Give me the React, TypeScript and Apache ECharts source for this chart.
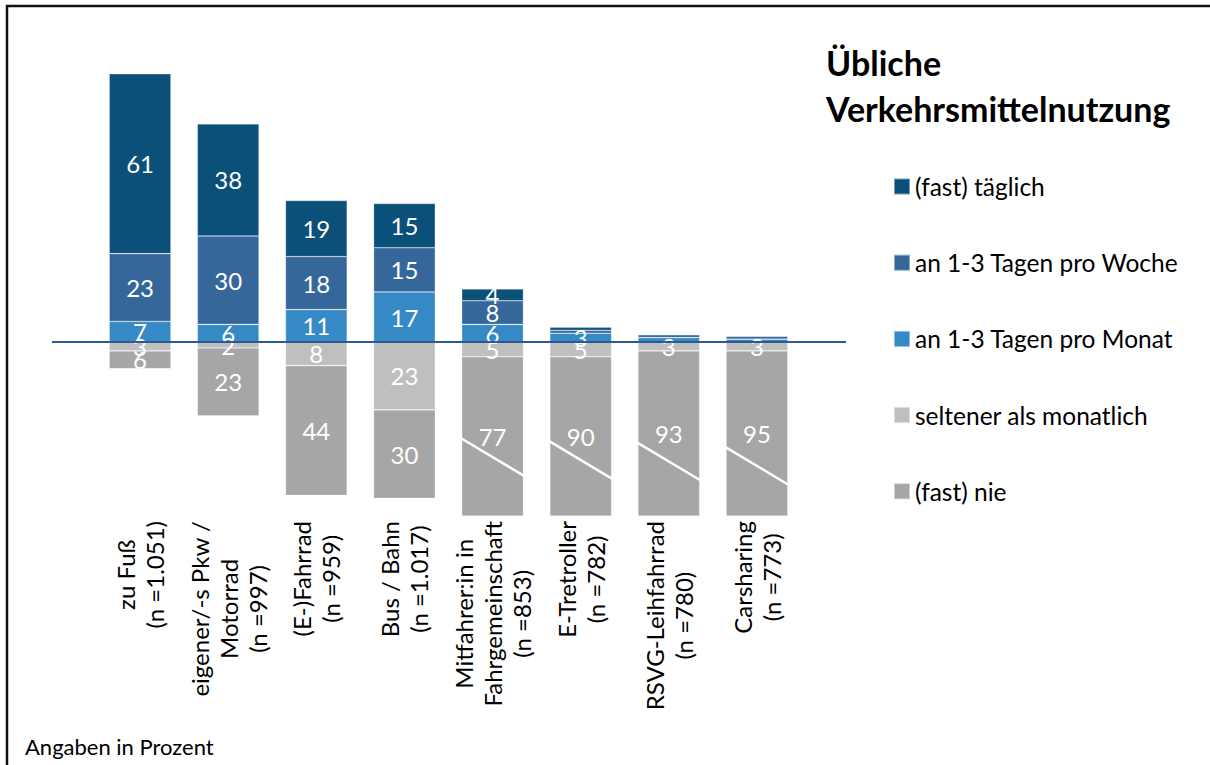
import React, { useEffect, useRef } from "react";
import * as echarts from "echarts";

const FONT = "Lato, 'Open Sans', sans-serif";

const categories = [
  "zu Fuß\n(n =1.051)",
  "eigener/-s Pkw /\nMotorrad\n(n =997)",
  "(E-)Fahrrad\n(n =959)",
  "Bus / Bahn\n(n =1.017)",
  "Mitfahrer:in in\nFahrgemeinschaft\n(n =853)",
  "E-Tretroller\n(n =782)",
  "RSVG-Leihfahrrad\n(n =780)",
  "Carsharing\n(n =773)",
];

const seriesNames = [
  "(fast) täglich",
  "an 1-3 Tagen pro Woche",
  "an 1-3 Tagen pro Monat",
  "seltener als monatlich",
  "(fast) nie",
];

const taeglich = [61, 38, 19, 15, 4, 1, 0, 0];
const woche = [23, 30, 18, 15, 8, 1, 1, 1];
const monat = [7, 6, 11, 17, 6, 3, 1.5, 1];
const seltener = [3, 2, 8, 23, 5, 5, 3, 3];
const nie = [6, 23, 44, 30, 77, 90, 93, 95];

// axis break: bars below zero are cut at this depth
const breakDepth = 59;
// category index and value where the break marker is drawn
const breakAt = [
  [4, -39],
  [5, -40],
  [6, -40.5],
  [7, -42],
];

const colors = ["#0b5079", "#36679b", "#358ac6", "#bfbfbf", "#a6a6a6"];

const CAT_FONT_SIZE = 24;

function maxLineWidth(text: string): number {
  const ctx = document.createElement("canvas").getContext("2d");
  if (!ctx) return 0;
  ctx.font = `${CAT_FONT_SIZE}px ${FONT}`;
  return Math.max(...text.split("\n").map((s) => ctx.measureText(s).width));
}

export default function App() {
  const ref = useRef<HTMLDivElement>(null);

  useEffect(() => {
    if (!ref.current) return;
    document.body.style.margin = "0";
    const chart = echarts.init(ref.current, null, { renderer: "svg" });

    const labelCfg = {
      show: true,
      position: "inside",
      color: "#ffffff",
      fontSize: 24,
      fontFamily: FONT,
      formatter: (p: any) => {
        const v = Math.abs(p.data.real !== undefined ? p.data.real : p.value);
        return v >= 2 ? String(Math.round(v)) : "";
      },
    };

    const barBase = {
      type: "bar",
      stack: "a",
      barCategoryGap: "30%",
      label: labelCfg,
      itemStyle: { borderColor: "rgba(255,255,255,0.45)", borderWidth: 0.6 },
    };

    const nieShown = nie.map((v, i) => ({
      value: -Math.min(v, breakDepth - seltener[i]),
      real: v,
    }));

    const catWidths = categories.map(maxLineWidth);

    const option: any = {
      animation: false,
      backgroundColor: "#ffffff",
      title: {
        text: "Übliche\nVerkehrsmittelnutzung",
        left: 826,
        top: 39,
        padding: 0,
        textStyle: {
          fontSize: 34,
          fontWeight: "bold",
          lineHeight: 46,
          fontFamily: FONT,
          color: "#000000",
        },
      },
      legend: {
        orient: "vertical",
        left: 893,
        top: 174,
        padding: 0,
        itemGap: 51.2,
        itemWidth: 16,
        itemHeight: 16,
        icon: "rect",
        data: seriesNames,
        selectedMode: false,
        textStyle: { fontSize: 24.5, fontFamily: FONT, color: "#000000" },
      },
      grid: { left: 96, width: 705, top: 62, height: 454 },
      xAxis: {
        type: "category",
        data: categories,
        axisLine: { show: false },
        axisTick: { show: false },
        axisLabel: { show: false },
      },
      yAxis: {
        type: "value",
        min: -breakDepth,
        max: 95,
        show: false,
        splitLine: { show: false },
      },
      series: [
        { ...barBase, name: seriesNames[2], data: monat, itemStyle: { ...barBase.itemStyle, color: colors[2] } },
        { ...barBase, name: seriesNames[1], data: woche, itemStyle: { ...barBase.itemStyle, color: colors[1] } },
        { ...barBase, name: seriesNames[0], data: taeglich, itemStyle: { ...barBase.itemStyle, color: colors[0] } },
        { ...barBase, name: seriesNames[3], data: seltener.map((v) => -v), itemStyle: { ...barBase.itemStyle, color: colors[3] } },
        { ...barBase, name: seriesNames[4], data: nieShown, itemStyle: { ...barBase.itemStyle, color: colors[4] } },
        {
          type: "custom",
          name: "break",
          data: breakAt,
          z: 5,
          silent: true,
          renderItem: (params: any, api: any) => {
            const c = api.coord([api.value(0), api.value(1)]);
            const bw = api.size([1, 0])[0] * 0.705;
            const dy = api.size([0, 6.3])[1];
            return {
              type: "line",
              shape: {
                x1: c[0] - bw / 2,
                y1: c[1] - dy,
                x2: c[0] + bw / 2,
                y2: c[1] + dy,
              },
              style: { stroke: "#ffffff", lineWidth: 2.5 },
            };
          },
        },
        {
          // category labels, rotated, lines centred on each other
          type: "custom",
          name: "catLabels",
          data: categories.map((_, i) => [i, -breakDepth]),
          clip: false,
          silent: true,
          z: 6,
          renderItem: (params: any, api: any) => {
            const i = api.value(0);
            const p = api.coord([i, api.value(1)]);
            const w = catWidths[i];
            return {
              type: "text",
              x: p[0],
              y: p[1] + 5 + w / 2,
              rotation: Math.PI / 2,
              style: {
                text: categories[i],
                align: "center",
                verticalAlign: "middle",
                fontSize: CAT_FONT_SIZE,
                fontFamily: FONT,
                lineHeight: 29,
                fill: "#000000",
              },
            };
          },
        },
      ],
    };

    chart.setOption(option);

    const y0 = chart.convertToPixel({ yAxisIndex: 0 }, 0) as number;
    chart.setOption({
      graphic: [
        {
          type: "line",
          shape: { x1: 52, y1: y0, x2: 846, y2: y0 },
          style: { stroke: "#2f5a8f", lineWidth: 2 },
          z: 10,
        },
        {
          type: "rect",
          shape: { x: 7, y: 6, width: 1220, height: 780 },
          style: { fill: "none", stroke: "#111111", lineWidth: 2.5 },
          silent: true,
        },
        {
          type: "text",
          x: 25,
          y: 746,
          style: {
            text: "Angaben in Prozent",
            fontSize: 22,
            fontFamily: FONT,
            fill: "#000000",
            verticalAlign: "middle",
          },
        },
      ],
    });

    return () => chart.dispose();
  }, []);

  return (
    <div
      ref={ref}
      style={{ position: "fixed", left: 0, top: 0, width: 1210, height: 765 }}
    />
  );
}
